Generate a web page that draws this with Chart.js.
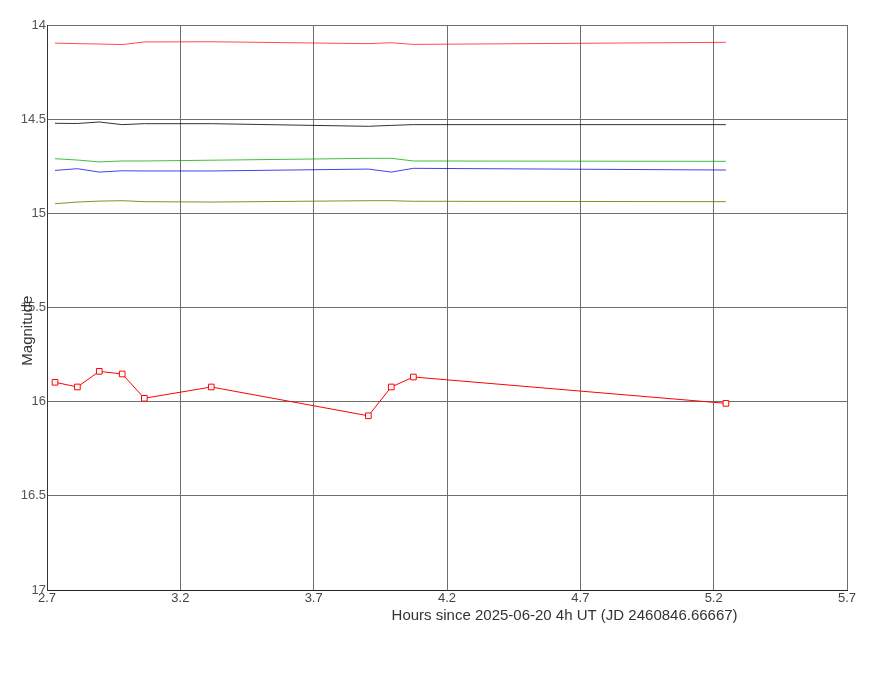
<!DOCTYPE html>
<html>
<head>
<meta charset="utf-8">
<script src="https://cdn.jsdelivr.net/npm/chart.js@4"></script>
<style>
html,body{margin:0;padding:0;background:#fff;}
#wrap{width:873px;height:679px;position:relative;}
</style>
</head>
<body>
<div id="wrap"><canvas id="c" width="873" height="679"></canvas></div>
<script>
// Hours since 2025-06-20 4h UT
const hours = [2.730, 2.814, 2.896, 2.982, 3.065, 3.316, 3.905, 3.991, 4.074, 5.246];
// Target star
const targetMag = [15.897, 15.922, 15.839, 15.853, 15.982, 15.922, 16.075, 15.922, 15.869, 16.009];
// Comparison / check stars
const compRed   = [14.096, 14.099, 14.101, 14.104, 14.090, 14.089, 14.099, 14.094, 14.103, 14.092];
const compBlack = [14.522, 14.523, 14.515, 14.529, 14.524, 14.524, 14.538, 14.533, 14.529, 14.529];
const compGreen = [14.710, 14.717, 14.727, 14.722, 14.722, 14.718, 14.708, 14.708, 14.722, 14.724];
const compBlue  = [14.772, 14.763, 14.781, 14.774, 14.775, 14.775, 14.765, 14.781, 14.761, 14.770];
const compOlive = [14.949, 14.940, 14.935, 14.933, 14.938, 14.940, 14.933, 14.933, 14.936, 14.938];
// Tick labels
const xTicks = [2.7, 3.2, 3.7, 4.2, 4.7, 5.2, 5.7];
const yTicks = [14, 14.5, 15, 15.5, 16, 16.5, 17];
const xTitle = 'Hours since 2025-06-20 4h UT (JD 2460846.66667)';
const yTitle = 'Magnitude';

const toXY = arr => hours.map((h, i) => ({x: h, y: arr[i]}));

function lineDs(arr, color) {
  return {data: toXY(arr), borderColor: color, borderWidth: 1, pointRadius: 0, fill: false, tension: 0};
}

const FONT = '"Liberation Sans", Arial, sans-serif';

const titlePlugin = {
  id: 'axisTitles',
  afterDraw(chart) {
    const ctx = chart.ctx;
    const a = chart.chartArea;
    ctx.save();
    ctx.fillStyle = '#333';
    ctx.font = '15px ' + FONT;
    ctx.textAlign = 'center';
    ctx.textBaseline = 'middle';
    ctx.fillText(xTitle, a.left + (a.right - a.left) * 0.647, a.bottom + 26);
    ctx.translate(28, a.top + (a.bottom - a.top) * 0.541);
    ctx.rotate(-Math.PI / 2);
    ctx.fillText(yTitle, 0, 0);
    ctx.restore();
  }
};

new Chart(document.getElementById('c'), {
  type: 'line',
  data: {
    datasets: [
      lineDs(compRed, 'rgba(255,0,0,0.7)'),
      lineDs(compBlack, 'rgba(0,0,0,0.8)'),
      lineDs(compGreen, 'rgba(0,170,0,0.75)'),
      lineDs(compBlue, 'rgba(0,0,235,0.75)'),
      lineDs(compOlive, 'rgba(120,120,0,0.85)'),
      {
        data: toXY(targetMag), borderColor: 'rgb(255,0,0)', borderWidth: 1,
        pointStyle: 'rect', pointRadius: 4, pointBorderColor: 'rgb(255,0,0)',
        pointBackgroundColor: '#fff', pointBorderWidth: 1, fill: false, tension: 0
      }
    ]
  },
  options: {
    responsive: false,
    animation: false,
    layout: {padding: {top: 25, right: 26, left: 0, bottom: 0}},
    plugins: {legend: {display: false}, tooltip: {enabled: false}},
    scales: {
      x: {
        type: 'linear', min: 2.7, max: 5.7,
        afterBuildTicks: s => { s.ticks = xTicks.map(v => ({value: v})); },
        afterFit: s => { s.height = 89; },
        grid: {color: '#6e6e6e', drawTicks: false},
        border: {color: '#222', width: 1},
        ticks: {color: '#444', padding: 1, font: {size: 13, family: FONT}, callback: v => String(v)}
      },
      y: {
        type: 'linear', min: 14, max: 17, reverse: true,
        afterBuildTicks: s => { s.ticks = yTicks.map(v => ({value: v})); },
        afterFit: s => { s.width = 47; },
        grid: {color: '#6e6e6e', drawTicks: false},
        border: {color: '#333', width: 1},
        ticks: {color: '#555', padding: 1, font: {size: 13, family: FONT}, callback: v => String(v)}
      }
    }
  },
  plugins: [titlePlugin, {
    id: 'rightBorder',
    afterDraw(chart) {
      const ctx = chart.ctx, a = chart.chartArea;
      ctx.save();
      ctx.strokeStyle = '#6e6e6e';
      ctx.lineWidth = 1;
      ctx.beginPath();
      ctx.moveTo(Math.round(a.right) + 0.5, a.top);
      ctx.lineTo(Math.round(a.right) + 0.5, a.bottom);
      ctx.stroke();
      ctx.restore();
    }
  }]
});
</script>
</body>
</html>
